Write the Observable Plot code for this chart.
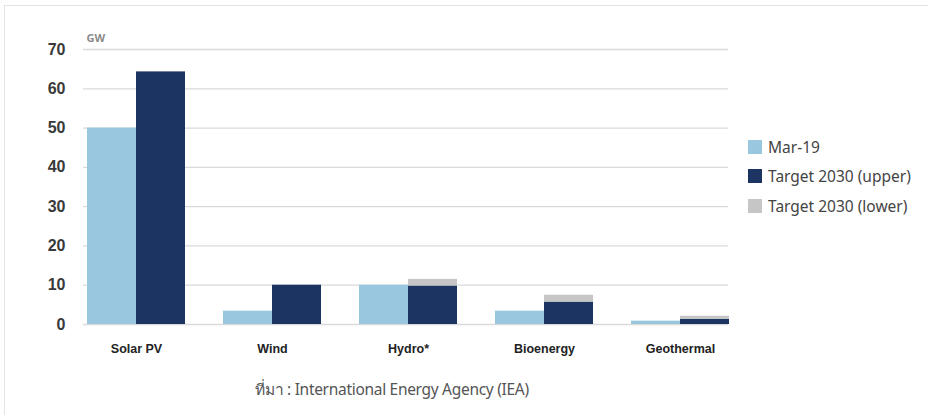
<!DOCTYPE html>
<html>
<head>
<meta charset="utf-8">
<script src="https://cdn.jsdelivr.net/npm/d3@7"></script>
<script src="https://cdn.jsdelivr.net/npm/@observablehq/plot@0.6"></script>
<style>
  html, body { margin: 0; padding: 0; background: #fff; }
  #wrap { position: relative; width: 928px; height: 415px; overflow: hidden; font-family: "Liberation Sans", Arial, sans-serif; }
  #frame { position: absolute; left: 4px; top: 5px; width: 1000px; height: 500px; border-left: 1.5px solid #e3e3e3; border-top: 1.5px solid #e3e3e3; box-sizing: border-box; }
  #chart { position: absolute; left: 0; top: 0; }
  #chart svg { overflow: visible; }
  #chart [aria-label^="y-axis"] text { font-family: "Liberation Sans", Arial, sans-serif; font-weight: bold; font-size: 16px; fill: #3a3a3a; }
  #chart [aria-label^="x-axis"] text { font-family: "Liberation Sans", Arial, sans-serif; font-weight: bold; font-size: 12.5px; fill: #222; }
  #legend { position: absolute; left: 748px; top: 132px; font-family: "Noto Sans", sans-serif; font-size: 15.5px; color: #444; }
  .item { display: flex; align-items: center; height: 29.5px; }
  .sw { width: 14px; height: 14px; margin-right: 6px; }
  #caption { position: absolute; left: 0; width: 784px; top: 377px; text-align: center; font-family: "Noto Sans", "DejaVu Sans", sans-serif; font-size: 15.5px; color: #555; letter-spacing: -0.3px; }
</style>
</head>
<body>
<div id="wrap">
  <div id="frame"></div>
  <div id="chart"></div>
  <div id="legend"></div>
  <div id="caption"></div>
</div>
<script>
const categories = ["Solar PV", "Wind", "Hydro*", "Bioenergy", "Geothermal"];
const mar19 = [50, 3.4, 10, 3.4, 0.85];
const targetUpper = [64.3, 10, 9.8, 5.7, 1.35];
const targetLowerExtra = [0, 0, 1.7, 1.75, 0.75];
const seriesNames = ["Mar-19", "Target 2030 (upper)", "Target 2030 (lower)"];
const seriesColors = ["#99c7e0", "#1c3461", "#c6c6c6"];
const yTicks = [0, 10, 20, 30, 40, 50, 60, 70];
const unitLabel = "GW";
const captionText = "ที่มา : International Energy Agency (IEA)";

const rowsMar = categories.map((c, i) => ({cat: c, series: seriesNames[0], value: mar19[i]}));
const rowsTarget = [
  ...categories.map((c, i) => ({cat: c, series: seriesNames[1], value: targetUpper[i]})),
  ...categories.map((c, i) => ({cat: c, series: seriesNames[2], value: targetLowerExtra[i]}))
];

const xRange = [83, 733], padIn = 0.282, padOut = 0.022;
const bw = d3.scaleBand().domain(categories).range(xRange).paddingInner(padIn).paddingOuter(padOut).align(0.5).bandwidth();
const half = bw / 2;

const plot = Plot.plot({
  width: 928,
  height: 370,
  marginLeft: 83,
  marginRight: 200,
  marginTop: 49,
  marginBottom: 46,
  x: {domain: categories, range: xRange, paddingInner: padIn, paddingOuter: padOut, align: 0.5, label: null, tickSize: 0, tickPadding: 20},
  y: {domain: [0, 70], ticks: yTicks, label: null, tickSize: 0, tickPadding: 18},
  color: {domain: seriesNames, range: seriesColors},
  marks: [
    Plot.ruleY(yTicks, {stroke: "#dadada", strokeWidth: 1.3}),
    Plot.barY(rowsMar, {x: "cat", y: "value", fill: "series", insetRight: half}),
    Plot.barY(rowsTarget, {x: "cat", y: "value", fill: "series", insetLeft: half}),
    Plot.text([unitLabel], {frameAnchor: "top-left", dx: 3, dy: -8, lineAnchor: "bottom", textAnchor: "start", fill: "#8a8a8a", fontSize: 11, fontWeight: "bold"})
  ]
});
document.getElementById("chart").appendChild(plot);

const legend = document.getElementById("legend");
seriesNames.forEach((n, i) => {
  const it = document.createElement("div");
  it.className = "item";
  const sw = document.createElement("span");
  sw.className = "sw";
  sw.style.background = seriesColors[i];
  const t = document.createElement("span");
  t.textContent = n;
  it.appendChild(sw); it.appendChild(t);
  legend.appendChild(it);
});
document.getElementById("caption").textContent = captionText;
</script>
</body>
</html>
